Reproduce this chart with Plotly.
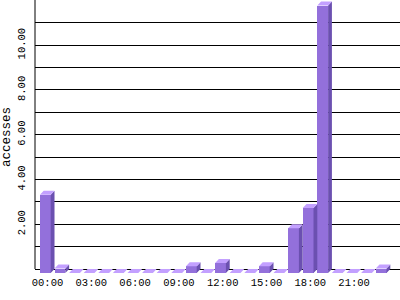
import plotly.graph_objects as go

# ---- data ----
hours = list(range(24))
accesses = [3.5, 0.2, 0, 0, 0, 0, 0, 0, 0, 0, 0.3, 0, 0.45, 0, 0, 0.3, 0,
            2.0, 2.9, 11.95, 0, 0, 0, 0.2]
x_tick_hours = [0, 3, 6, 9, 12, 15, 18, 21]
x_tick_labels = ["00:00", "03:00", "06:00", "09:00", "12:00", "15:00", "18:00", "21:00"]
y_grid_vals = list(range(0, 13))
y_tick_labels = ["" if (v == 0 or v % 2 or v == 12) else f"{v:.2f}" for v in y_grid_vals]

# ---- style ----
FRONT = "#9370DB"
TOP = "#C3A0FF"
SIDE = "#6B50B0"
FONT = "Liberation Mono"
LEFT_OFF, RIGHT_OFF = -0.52, 0.22   # front face extent around the hour position
DX, DY = 0.26, 0.178                # depth offset (in axis units)

fig = go.Figure()

# side faces
sx, sy = [], []
for h, v in zip(hours, accesses):
    x1 = h + RIGHT_OFF
    sx += [x1, x1 + DX, x1 + DX, x1, x1, None]
    sy += [-DY, 0, v, v - DY, -DY, None]
fig.add_trace(go.Scatter(x=sx, y=sy, mode="lines", fill="toself", fillcolor=SIDE,
                         line=dict(width=0, color=SIDE), hoverinfo="skip", showlegend=False))

# top faces
tx, ty = [], []
for h, v in zip(hours, accesses):
    x0, x1 = h + LEFT_OFF, h + RIGHT_OFF
    tx += [x0, x1, x1 + DX, x0 + DX, x0, None]
    ty += [v - DY, v - DY, v, v, v - DY, None]
fig.add_trace(go.Scatter(x=tx, y=ty, mode="lines", fill="toself", fillcolor=TOP,
                         line=dict(width=0, color=TOP), hoverinfo="skip", showlegend=False))

# front faces
fig.add_trace(go.Bar(x=hours, y=accesses, base=[-DY] * len(hours),
                     width=RIGHT_OFF - LEFT_OFF, offset=LEFT_OFF,
                     marker=dict(color=FRONT, line=dict(width=0)),
                     hoverinfo="skip", showlegend=False))

# y axis line (from baseline up)
fig.add_shape(type="line", xref="paper", yref="y", x0=0, x1=0, y0=0, y1=12.05,
              line=dict(color="black", width=1), layer="above")

fig.update_layout(
    width=400, height=300,
    margin=dict(l=35, r=0, t=0, b=26, pad=0),
    paper_bgcolor="white", plot_bgcolor="white",
    font=dict(family=FONT, size=10, color="black"),
    bargap=0,
    xaxis=dict(range=[-0.856, 24.144], showgrid=False, zeroline=False, showline=False,
               tickvals=x_tick_hours, ticktext=x_tick_labels, ticks="",
               tickfont=dict(family=FONT, size=10.5), fixedrange=True),
    yaxis=dict(range=[-0.223, 12.02], showgrid=True, gridcolor="black", gridwidth=1,
               zeroline=False, showline=False,
               tickvals=y_grid_vals, ticktext=y_tick_labels, ticks="",
               tickangle=-90, tickfont=dict(family=FONT, size=10.5),
               ticklabelstandoff=7,
               title=dict(text="accesses", font=dict(family=FONT, size=12.5), standoff=2),
               automargin=False, fixedrange=True),
)

fig.write_html("out.html")
